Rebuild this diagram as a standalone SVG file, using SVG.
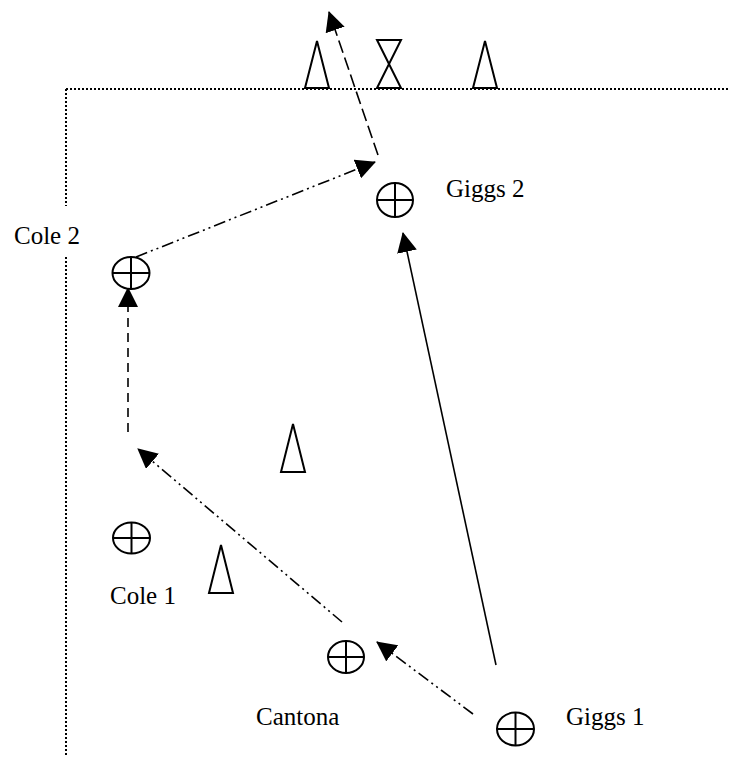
<svg xmlns="http://www.w3.org/2000/svg" width="729" height="757" viewBox="0 0 729 757">
  <style>
    .field { fill: none; stroke: #000; stroke-width: 2; stroke-dasharray: 2 2; }
    .cone { fill: #fff; stroke: #000; stroke-width: 2; stroke-linejoin: miter; }
    .player ellipse { fill: #fff; stroke: #000; stroke-width: 2; }
    .player line { stroke: #000; stroke-width: 2; }
    .label { font-family: "Liberation Serif", "Times New Roman", serif; font-size: 25px; fill: #000; }
    .run { fill: none; stroke: #000; stroke-width: 1.6; }
    .solid { }
    .dashed { stroke-dasharray: 9 6; }
    .longdash { stroke-dasharray: 13 5; }
    .dashdotdot { stroke-dasharray: 12 4 2 4 2 4; }
  </style>
  <defs>
    <marker id="head" viewBox="0 0 20 20" refX="19" refY="10" markerWidth="20" markerHeight="20" markerUnits="userSpaceOnUse" orient="auto">
      <path d="M0,0 L20,10 L0,20 z" fill="#000"/>
    </marker>
  </defs>

  <!-- pitch boundary: top line and left touchline, broken around the Cole 2 label -->
  <g id="pitch">
    <path class="field" d="M66,89 H729"/>
    <path class="field" d="M66,89 V206"/>
    <path class="field" d="M66,257 V757"/>
  </g>

  <!-- cones and goal marker -->
  <g id="cones">
    <polygon id="cone-top-left" class="cone" points="317,41 329,88 305,88"/>
    <path id="goal-marker" class="cone" d="M377,40 H401 L377,88 H401 Z"/>
    <polygon id="cone-top-right" class="cone" points="485,41 497,88 473,88"/>
    <polygon id="cone-middle" class="cone" points="293,424 305,472 281,472"/>
    <polygon id="cone-low" class="cone" points="221,545 233,593 209,593"/>
  </g>

  <!-- runs and passes -->
  <g id="connectors">
    <line class="run solid" x1="496" y1="665" x2="403" y2="233" marker-end="url(#head)"/>
    <line class="run dashdotdot" x1="473" y1="714" x2="377" y2="642" marker-end="url(#head)"/>
    <line class="run dashdotdot" x1="342" y1="622" x2="138" y2="449" marker-end="url(#head)"/>
    <line class="run dashed" x1="128" y1="432" x2="128" y2="288" marker-end="url(#head)"/>
    <line class="run dashdotdot" x1="136" y1="257" x2="375" y2="162" marker-end="url(#head)"/>
    <line class="run longdash" x1="378" y1="155" x2="329" y2="12" marker-end="url(#head)"/>
  </g>

  <!-- players -->
  <g id="giggs2" class="player">
    <ellipse cx="395" cy="200" rx="18" ry="17"/>
    <line x1="377" y1="200" x2="413" y2="200"/>
    <line x1="395" y1="183" x2="395" y2="217"/>
    <text class="label" x="446" y="197">Giggs 2</text>
  </g>
  <g id="cole2" class="player">
    <ellipse cx="131" cy="273" rx="18.5" ry="16"/>
    <line x1="112.5" y1="273" x2="149.5" y2="273"/>
    <line x1="131" y1="257" x2="131" y2="289"/>
    <text class="label" x="14" y="244">Cole 2</text>
  </g>
  <g id="cole1" class="player">
    <ellipse cx="131.5" cy="538" rx="18.5" ry="15.5"/>
    <line x1="113" y1="538" x2="150" y2="538"/>
    <line x1="131.5" y1="522.5" x2="131.5" y2="553.5"/>
    <text class="label" x="110" y="604">Cole 1</text>
  </g>
  <g id="cantona" class="player">
    <ellipse cx="346" cy="657" rx="18" ry="16"/>
    <line x1="328" y1="657" x2="364" y2="657"/>
    <line x1="346" y1="641" x2="346" y2="673"/>
    <text class="label" x="256" y="725">Cantona</text>
  </g>
  <g id="giggs1" class="player">
    <ellipse cx="515.5" cy="729" rx="18.5" ry="16.5"/>
    <line x1="497" y1="729" x2="534" y2="729"/>
    <line x1="515.5" y1="712.5" x2="515.5" y2="745.5"/>
    <text class="label" x="566" y="725">Giggs 1</text>
  </g>
</svg>
